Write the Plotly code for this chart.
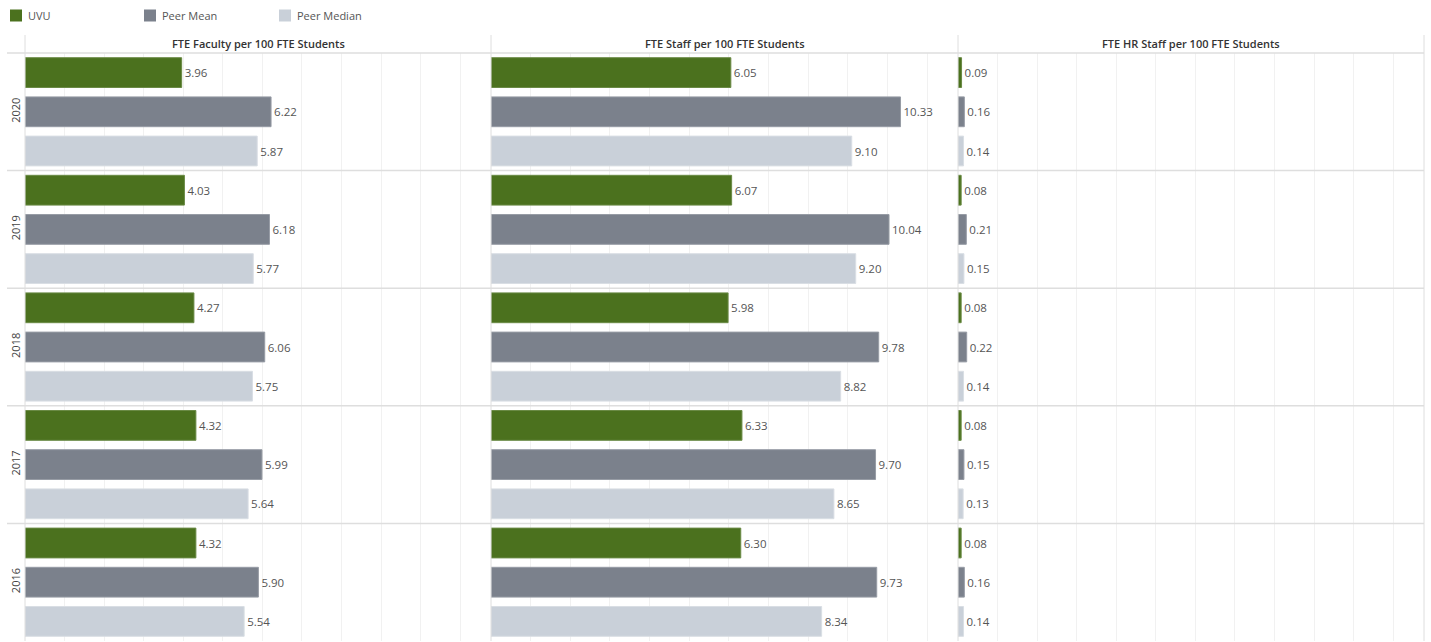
import plotly.graph_objects as go

years = ["2020", "2019", "2018", "2017", "2016"]
series = ["UVU", "Peer Mean", "Peer Median"]
panels = ["FTE Faculty per 100 FTE Students",
          "FTE Staff per 100 FTE Students",
          "FTE HR Staff per 100 FTE Students"]

# values per panel, per series, per year (2020..2016)
faculty_uvu = [3.96, 4.03, 4.27, 4.32, 4.32]
faculty_mean = [6.22, 6.18, 6.06, 5.99, 5.90]
faculty_median = [5.87, 5.77, 5.75, 5.64, 5.54]

staff_uvu = [6.05, 6.07, 5.98, 6.33, 6.30]
staff_mean = [10.33, 10.04, 9.78, 9.70, 9.73]
staff_median = [9.10, 9.20, 8.82, 8.65, 8.34]

hr_uvu = [0.09, 0.08, 0.08, 0.08, 0.08]
hr_mean = [0.16, 0.21, 0.22, 0.15, 0.16]
hr_median = [0.14, 0.15, 0.14, 0.13, 0.14]

panel_data = [
    [faculty_uvu, faculty_mean, faculty_median],
    [staff_uvu, staff_mean, staff_median],
    [hr_uvu, hr_mean, hr_median],
]

colors = ["#4b711e", "#7b818c", "#c9d0d9"]
outline = ["#6a8a45", "#979ca5", "#d9dee4"]

W, H = 1431, 642
ML, MR, MT, MB = 25, 7, 53, 1
PW = W - ML - MR
PH = H - MT - MB

FONT = "Open Sans"
XMAX = 11.78

fig = go.Figure()

for p, pdata in enumerate(panel_data):
    xa = "x" if p == 0 else f"x{p+1}"
    for s, vals in enumerate(pdata):
        ypos = [i * 3 + s + 0.5 for i in range(len(years))]
        fig.add_trace(go.Bar(
            x=vals, y=ypos, orientation="h",
            xaxis=xa, yaxis="y",
            width=0.76,
            name=series[s],
            showlegend=False,
            marker=dict(color=colors[s], line=dict(color=outline[s], width=1)),
            text=[f"{v:.2f}" for v in vals],
            textposition="outside",
            textfont=dict(family=FONT, size=11.5, color="#555555"),
            cliponaxis=False,
            hovertemplate=f"{series[s]}: %{{x:.2f}}<extra></extra>",
        ))

domains = [[0, 466 / PW], [466 / PW, 933 / PW], [933 / PW, 1]]
axcommon = dict(range=[0, XMAX], showgrid=True, gridcolor="#f1f1f1", gridwidth=1,
                dtick=1, tick0=0, showticklabels=False, zeroline=False,
                showline=False, ticks="", fixedrange=True, automargin=False)

layout = dict(
    width=W, height=H,
    margin=dict(l=ML, r=MR, t=MT, b=MB, autoexpand=False),
    paper_bgcolor="white", plot_bgcolor="white",
    barmode="overlay",
    showlegend=False,
    yaxis=dict(range=[15, 0], tickvals=[i * 3 + 1.5 for i in range(len(years))],
               ticktext=years, tickangle=-90, showgrid=False, zeroline=False,
               showline=False, ticks="", ticklabelstandoff=2, automargin=False,
               fixedrange=True,
               tickfont=dict(family=FONT, size=11, color="#444444")),
)
for p in range(3):
    key = "xaxis" if p == 0 else f"xaxis{p+1}"
    d = dict(axcommon)
    d["domain"] = domains[p]
    d["anchor"] = "y"
    layout[key] = d
fig.update_layout(**layout)

def px_x(px):
    return (px - ML) / PW

def px_y(py):
    return (H - MB - py) / PH

shapes = []
line_col = "#dedede"
# panel borders (extend into header band)
for xp in [0, domains[1][0], domains[2][0], 1]:
    shapes.append(dict(type="line", xref="paper", yref="paper",
                       x0=xp, x1=xp, y0=0, y1=px_y(35),
                       line=dict(color=line_col, width=1)))
# header bottom line and row separators
shapes.append(dict(type="line", xref="paper", yref="paper",
                   x0=px_x(7), x1=1, y0=1, y1=1,
                   line=dict(color=line_col, width=1.5)))
for i in range(1, len(years)):
    shapes.append(dict(type="line", xref="paper", yref="y",
                       x0=px_x(7), x1=1, y0=i * 3, y1=i * 3,
                       line=dict(color=line_col, width=1.5)))

annotations = []
for p, title in enumerate(panels):
    annotations.append(dict(text=title, xref="paper", yref="paper",
                            x=(domains[p][0] + domains[p][1]) / 2, y=px_y(44),
                            showarrow=False, xanchor="center", yanchor="middle",
                            font=dict(family=FONT, size=11, color="#333333", weight=600)))

# legend (manual)
leg_sq_x = [10, 144, 279]
for s, name in enumerate(series):
    x0 = leg_sq_x[s]
    shapes.append(dict(type="rect", xref="paper", yref="paper",
                       x0=px_x(x0), x1=px_x(x0 + 12), y0=px_y(21.5), y1=px_y(9.5),
                       fillcolor=colors[s], line=dict(width=0)))
    annotations.append(dict(text=name, xref="paper", yref="paper",
                            x=px_x(x0 + 16), y=px_y(15.5), showarrow=False,
                            xanchor="left", yanchor="middle",
                            font=dict(family=FONT, size=11, color="#555555")))

fig.update_layout(shapes=shapes, annotations=annotations)
fig.write_html("out.html", config={"displayModeBar": False},
               post_script="document.body.style.margin='0px';document.body.style.overflow='hidden';")
